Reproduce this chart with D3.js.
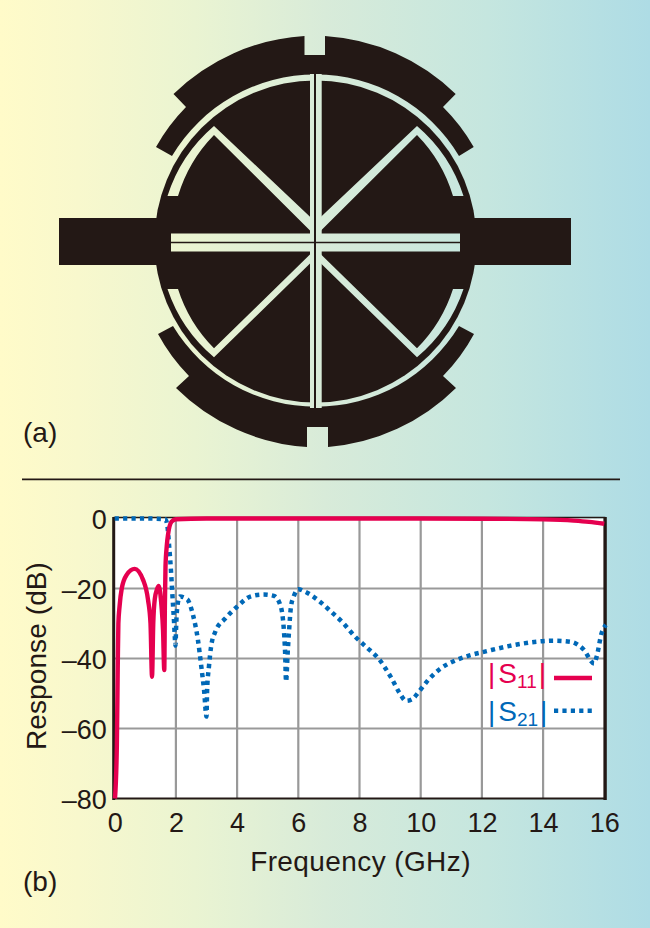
<!DOCTYPE html>
<html><head><meta charset="utf-8">
<script src="https://cdn.jsdelivr.net/npm/d3@7"></script>
<style>html,body{margin:0;padding:0;background:#fff}svg{display:block}text{font-family:"Liberation Sans",Arial,sans-serif}</style>
</head><body><svg id="c" width="650" height="928"></svg>
<script>
const xTicks = [0,2,4,6,8,10,12,14,16];
const yTicks = [0,-20,-40,-60,-80];
const s11Freq = [0.01,0.07,0.1,0.12,0.16,0.23,0.39,0.65,0.93,1.09,1.17,1.22,1.26,1.31,1.38,1.44,1.53,1.58,1.62,1.64,1.66,1.7,1.75,1.86,2,3,6,10,12,14,15,15.5,16];
const s11Db = [-80,-65,-42,-30,-25,-20,-16.1,-14.4,-17.6,-23.3,-30,-45.2,-30,-23,-20.3,-19.3,-25.2,-32,-43.3,-25,-13.8,-8,-4.2,-0.9,-0.2,0,0,0,-0.05,-0.25,-0.6,-0.95,-1.5];
const s21Freq = [0,1,1.65,1.72,1.78,1.84,1.88,1.93,1.99,2.0,2.05,2.13,2.37,2.56,2.72,2.83,2.92,3.0,3.02,3.08,3.15,3.29,3.62,4.0,4.43,4.87,5.2,5.41,5.52,5.57,5.6,5.65,5.7,5.76,5.85,6.0,6.22,6.67,7.07,7.47,7.83,8.23,8.62,9.05,9.32,9.52,9.73,9.92,10.25,10.63,11.12,11.6,12.16,12.97,13.79,14.33,14.88,15.31,15.67,15.75,15.91,16.05];
const s21Db = [0,0,-0.2,-2,-8,-15,-21,-28,-36.3,-33,-25,-22.3,-23.1,-27.6,-34.7,-42.3,-49,-56.6,-49,-42.3,-36.6,-32.3,-28.5,-25.2,-22.3,-21.7,-22.1,-24.7,-30.9,-38.5,-46.6,-38.8,-31.9,-25.2,-22.3,-20.2,-20.9,-23.5,-26.6,-29.9,-33.5,-36.8,-40,-45.7,-50,-52.1,-51.6,-49.7,-46.1,-43,-40.6,-39.1,-37.9,-36.3,-35.2,-34.9,-35.2,-37.3,-41.4,-39.5,-32.8,-30.4];
const legendNames = [["S","11"],["S","21"]];
const xTitle = "Frequency (GHz)", yTitle = "Response (dB)";
const panelLabels = ["(a)","(b)"];

const INK="#231815", PINK="#e5004f", BLUE="#0068b7", GRID="#999999";
const svg=d3.select("#c");
const defs=svg.append("defs");
const grad=defs.append("linearGradient").attr("id","bg").attr("gradientUnits","userSpaceOnUse")
 .attr("x1",0).attr("x2",650).attr("y1",0).attr("y2",0);
[[0,"#fffbc9"],[0.12,"#f8f8cd"],[0.3,"#eaf4d2"],[0.5,"#d8ebd9"],[0.75,"#c5e6df"],[1,"#aedce5"]]
 .forEach(([o,c])=>grad.append("stop").attr("offset",o).attr("stop-color",c));
svg.append("rect").attr("width",650).attr("height",928).attr("fill","url(#bg)");

// (a) structure
const g=svg.append("g");
const cx=315.5, cy=242;
g.append("circle").attr("cx",cx).attr("cy",241.5).attr("r",161).attr("fill",INK);
g.append("rect").attr("x",59).attr("y",218).attr("width",512).attr("height",47).attr("fill",INK);
g.append("path").attr("fill",INK).attr("d","M172,156 L156,147 A186,186 0 0 1 186,107 L173.5,94 A205,205 0 0 1 304.5,36 L304.5,55 L325,55 L325,36 A205,205 0 0 1 455.7,94 L443,107 A186,186 0 0 1 473.7,147 L459,156 A167,167 0 0 0 172,156 Z");
g.append("path").attr("fill",INK).attr("d","M173,326 L158,334 A184,184 0 0 0 189,376 L176,388 A205,205 0 0 0 307,447 L307,427 L328,427 L328,447 A205,205 0 0 0 456,388 L443,376 A184,184 0 0 0 474,334 L459,326 A167,167 0 0 1 173,326 Z");
const slot=g.append("g").attr("fill","url(#bg)");
slot.append("rect").attr("x",171).attr("y",233.5).attr("width",289).attr("height",18);
slot.append("rect").attr("x",310).attr("y",74).attr("width",11.7).attr("height",334);
const quads=[[-1,-1,-116,-107,-25.3,-8.5,-46],[1,-1,-116,-107,-25.3,-8.5,-46],[-1,1,115.3,106.3,21.5,9.5,47],[1,1,115.3,106.3,21.5,9.5,47]];
quads.forEach(([sx,sy,tipO,tipI,endB,endC,arcY])=>{
  const X=d=>cx+sx*d, Y=d=>cy+d;
  slot.append("path").attr("d",`M${X(101.5)},${Y(tipO)} L${X(5.5)},${Y(endB)} L${X(5.5)},${Y(endC)} L${X(2.5)},${Y(endC)} L${X(101.5)},${Y(tipI)} Z`);
  const so=sx*sy>0?0:1, si=1-so;
  slot.append("path").attr("d",`M${X(101.5)},${Y(tipO)} A153,153 0 0 ${so} ${X(148)},${Y(arcY)} L${X(137.5)},${Y(arcY)} A148,148 0 0 ${si} ${X(101.5)},${Y(tipI)} Z`);
});
g.append("line").attr("x1",315).attr("x2",315).attr("y1",74).attr("y2",408).attr("stroke",INK).attr("stroke-width",2);
g.append("line").attr("x1",171).attr("x2",460).attr("y1",242.5).attr("y2",242.5).attr("stroke",INK).attr("stroke-width",1.6);

// labels and rule
svg.append("text").attr("x",23).attr("y",442).attr("font-size",28).attr("fill",INK).text(panelLabels[0]);
svg.append("text").attr("x",23).attr("y",891).attr("font-size",28).attr("fill",INK).text(panelLabels[1]);
svg.append("line").attr("x1",22).attr("x2",620).attr("y1",479.3).attr("y2",479.3).attr("stroke",INK).attr("stroke-width",1.8);

// (b) chart
const x=d3.scaleLinear().domain([0,16]).range([114.7,604.3]);
const y=d3.scaleLinear().domain([0,-80]).range([518.5,798.5]);
svg.append("rect").attr("x",x(0)).attr("y",y(0)).attr("width",x(16)-x(0)).attr("height",y(-80)-y(0)).attr("fill","#fff");
svg.append("g").selectAll("line").data(xTicks.slice(1,-1)).join("line")
 .attr("x1",d=>x(d)).attr("x2",d=>x(d)).attr("y1",y(0)).attr("y2",y(-80)).attr("stroke",GRID).attr("stroke-width",2.2);
svg.append("g").selectAll("line").data(yTicks.slice(1,-1)).join("line")
 .attr("x1",x(0)).attr("x2",x(16)).attr("y1",d=>y(d)).attr("y2",d=>y(d)).attr("stroke",GRID).attr("stroke-width",2.2);
const fmt=d=>d<0?"\u2013"+Math.abs(d):String(d);
const axB=svg.append("g").attr("transform",`translate(0,${y(-80)})`)
 .call(d3.axisBottom(x).tickValues(xTicks).tickFormat(fmt).tickSize(0).tickPadding(14));
const axL=svg.append("g").attr("transform",`translate(${x(0)},0)`)
 .call(d3.axisLeft(y).tickValues(yTicks).tickFormat(fmt).tickSize(0).tickPadding(8));
[axB,axL].forEach(a=>{a.select(".domain").remove();a.selectAll("text").attr("font-size",27).attr("fill",INK).attr("font-family",'"Liberation Sans",Arial,sans-serif');});
axL.selectAll("text").attr("dy","0.36em");
// frame
const frame=svg.append("g").attr("stroke",INK);
frame.append("line").attr("x1",x(0)-1).attr("x2",x(0)-1).attr("y1",y(0)-1.5).attr("y2",y(-80)+1.5).attr("stroke-width",3);
frame.append("line").attr("x1",x(16)+0.8).attr("x2",x(16)+0.8).attr("y1",y(0)-1.5).attr("y2",y(-80)+1.5).attr("stroke-width",3.4);
frame.append("line").attr("x1",x(0)-1).attr("x2",x(16)+1).attr("y1",y(0)-1).attr("y2",y(0)-1).attr("stroke-width",1.5);
frame.append("line").attr("x1",x(0)-1).attr("x2",x(16)+1).attr("y1",y(-80)).attr("y2",y(-80)).attr("stroke-width",2);

const line=d3.line().x(d=>x(d[0])).y(d=>y(d[1])).curve(d3.curveMonotoneX);
svg.append("path").attr("d",line(d3.zip(s21Freq,s21Db))).attr("fill","none").attr("stroke",BLUE).attr("stroke-width",4.5).attr("stroke-dasharray","4.2 4.2");
svg.append("path").attr("d",line(d3.zip(s11Freq,s11Db))).attr("fill","none").attr("stroke",PINK).attr("stroke-width",4.4).attr("stroke-linejoin","bevel");

svg.append("text").attr("x",360.5).attr("y",870.5).attr("text-anchor","middle").attr("font-size",28).attr("letter-spacing",0.4).attr("fill",INK).text(xTitle);
svg.append("text").attr("transform","translate(46,656) rotate(-90)").attr("text-anchor","middle").attr("font-size",28).attr("letter-spacing",0.1).attr("fill",INK).text(yTitle);

// legend
const legY=[683,721], legC=[PINK,BLUE], legLine=[678,710.7], legDash=[null,"4.2 4.2"];
legendNames.forEach((n,i)=>{
  const t=svg.append("text").attr("x",488).attr("y",legY[i]).attr("font-size",28).attr("fill",legC[i]);
  t.append("tspan").text("|");
  t.append("tspan").attr("dx",3).text(n[0]);
  t.append("tspan").attr("font-size",19).attr("dy",5).text(n[1]);
  t.append("tspan").attr("dy",-5).attr("dx",2).text("|");
  svg.append("line").attr("x1",554).attr("x2",592).attr("y1",legLine[i]).attr("y2",legLine[i]).attr("stroke",legC[i]).attr("stroke-width",4.4).attr("stroke-dasharray",legDash[i]);
});
</script></body></html>
